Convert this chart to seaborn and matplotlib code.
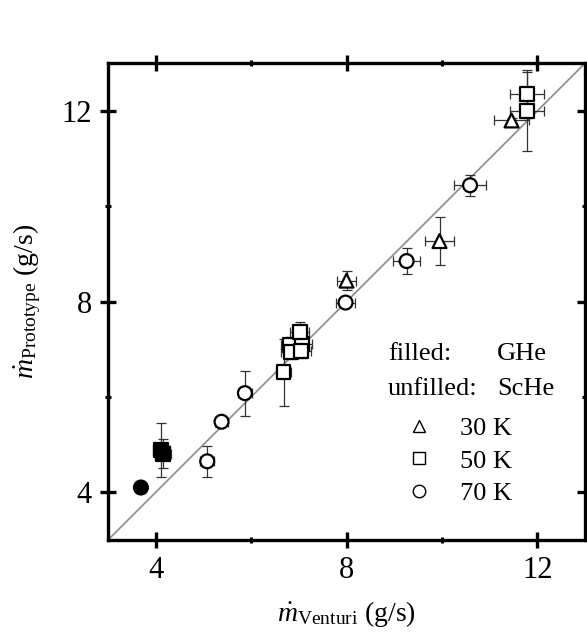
import numpy as np
import pandas as pd
import matplotlib
matplotlib.use("Agg")
import matplotlib.pyplot as plt
from matplotlib.lines import Line2D
import seaborn as sns

# data (g/s)
m_venturi = [3.69, 4.12, 4.16, 5.08, 5.38, 5.87, 6.68, 6.82, 6.83, 7.07, 7.05, 7.02,
             7.98, 8.00, 9.26, 9.95, 10.59, 11.46, 11.79, 11.79]
m_prototype = [4.10, 4.89, 4.81, 4.65, 5.48, 6.08, 6.52, 7.10, 6.94, 7.12, 6.96, 7.36,
               7.98, 8.44, 8.85, 9.27, 10.44, 11.80, 11.99, 12.36]
err_venturi = [0.0, 0.17, 0.17, 0.15, 0.14, 0.15, 0.15, 0.20, 0.20, 0.20, 0.20, 0.20,
               0.20, 0.20, 0.29, 0.31, 0.34, 0.36, 0.36, 0.36]
err_prototype = [0.0, 0.57, 0.30, 0.32, 0.04, 0.47, 0.70, 0.15, 0.15, 0.15, 0.15, 0.21,
                 0.05, 0.20, 0.28, 0.50, 0.22, 0.05, 0.83, 0.50]
temperature = ["70 K", "50 K", "50 K", "70 K", "70 K", "70 K", "50 K", "50 K", "50 K", "50 K",
               "50 K", "50 K", "70 K", "30 K", "70 K", "30 K", "70 K", "30 K", "50 K", "50 K"]
fluid = ["GHe", "GHe", "GHe"] + ["ScHe"] * 17

df = pd.DataFrame({"venturi": m_venturi, "prototype": m_prototype,
                   "xerr": err_venturi, "yerr": err_prototype,
                   "temp": temperature, "fluid": fluid})

sns.set_style("ticks", {"axes.edgecolor": "black", "xtick.color": "black",
                        "ytick.color": "black", "text.color": "black",
                        "axes.labelcolor": "black"})
plt.rcParams["font.family"] = ["Liberation Serif", "DejaVu Serif"]
plt.rcParams["mathtext.fontset"] = "custom"
plt.rcParams["mathtext.rm"] = "Liberation Serif"
plt.rcParams["mathtext.it"] = "Liberation Serif:italic"

fig = plt.figure(figsize=(5.87, 6.39), dpi=100)
ax = fig.add_axes([0.184, 0.155, 0.8126, 0.746])

ax.plot([3, 13], [3, 13], color="#8a8a8a", lw=1.2, zorder=1)

ax.errorbar(df["venturi"], df["prototype"], xerr=df["xerr"], yerr=df["yerr"],
            fmt="none", ecolor="#333333", elinewidth=0.9, capsize=3.5, capthick=0.9, zorder=2)

markers = {"30 K": "^", "50 K": "s", "70 K": "o"}
sns.scatterplot(data=df, x="venturi", y="prototype", hue="fluid", style="temp",
                markers=markers, palette={"GHe": "black", "ScHe": "white"},
                edgecolor="black", linewidth=1.6, s=100, legend=False, ax=ax, zorder=3)

ax.set_xlim(3, 13)
ax.set_ylim(3, 13)
ax.set_xticks([4, 8, 12])
ax.set_yticks([4, 8, 12])
ax.set_xticks([6, 10], minor=True)
ax.set_yticks([6, 10], minor=True)
ax.tick_params(which="major", direction="inout", length=11, width=2.4, labelsize=22,
               top=True, right=True, pad=6)
ax.tick_params(which="minor", direction="inout", length=5, width=2.2, top=True, right=True)
for sp in ax.spines.values():
    sp.set_linewidth(2.4)

ax.set_xlabel(r"$\dot{m}_{\mathrm{Venturi}}$ (g/s)", fontsize=20, labelpad=10)
ax.set_ylabel(r"$\dot{m}_{\mathrm{Prototype}}$ (g/s)", fontsize=20, labelpad=13)

# legend text
ax.text(0.587, 0.39, "filled:", transform=ax.transAxes, fontsize=19, va="center")
ax.text(0.815, 0.39, "GHe", transform=ax.transAxes, fontsize=19, va="center")
ax.text(0.587, 0.317, "unfilled:", transform=ax.transAxes, fontsize=19, va="center")
ax.text(0.815, 0.317, "ScHe", transform=ax.transAxes, fontsize=19, va="center")

handles = [Line2D([], [], ls="none", marker=markers[t], mfc="white", mec="black",
                  mew=1.0, ms=9) for t in ["30 K", "50 K", "70 K"]]
ax.legend(handles, ["30 K", "50 K", "70 K"], loc="center left",
          bbox_to_anchor=(0.583, 0.166), frameon=False, fontsize=19,
          handletextpad=0.8, labelspacing=0.35, borderpad=0, handlelength=1.5)

fig.savefig("out.png", dpi=100)
